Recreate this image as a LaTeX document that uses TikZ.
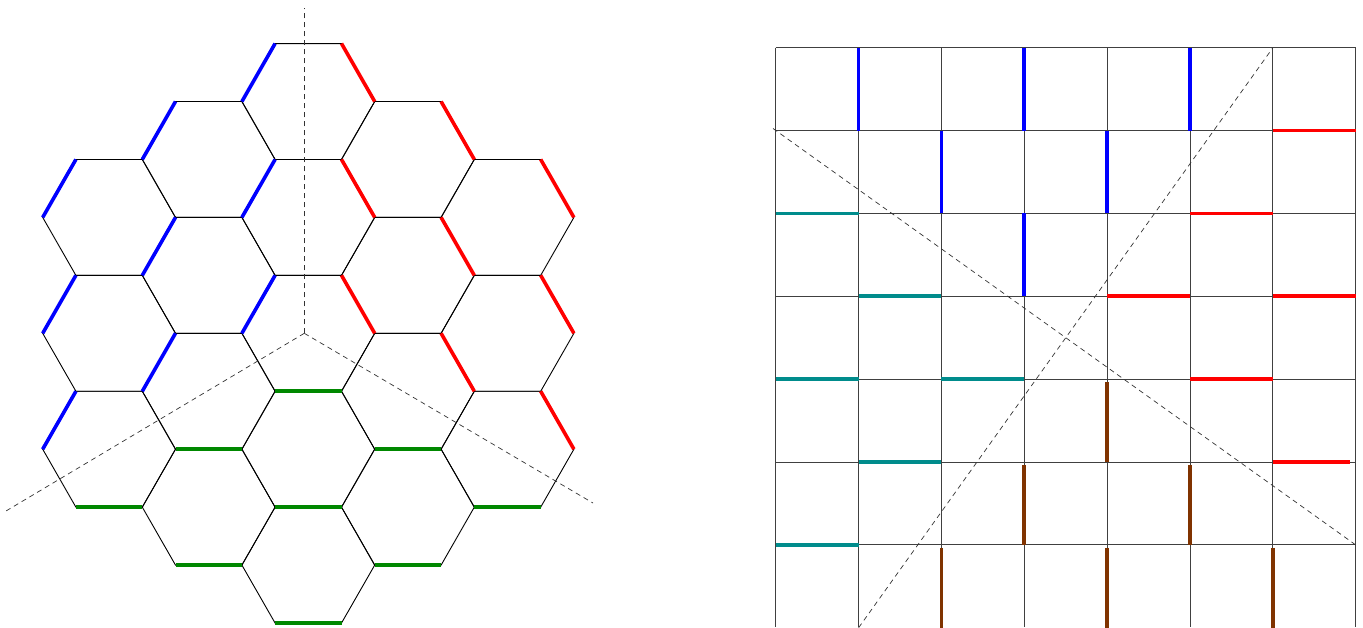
\documentclass[tikz,border=0pt]{standalone}
\definecolor{hexblue}{RGB}{0,0,255}
\definecolor{hexred}{RGB}{255,0,0}
\definecolor{hexgreen}{RGB}{0,136,0}
\definecolor{gridteal}{RGB}{0,140,140}
\definecolor{gridbrown}{RGB}{128,51,0}
\begin{document}
\begin{tikzpicture}[x=1pt,y=-1pt,
  hexline/.style={line width=0.9pt,black},
  gridline/.style={line width=1pt,black!75},
  thickedge/.style={line width=3.6pt},
  guide/.style={line width=0.7pt,black!80,dash pattern=on 5pt off 4pt}]
\useasboundingbox (0,0) rectangle (1363,627);

% ---------- hexagonal patch ----------
\foreach \i/\k in {0/-4,0/-2,0/0,0/2,0/4,-1/-3,-1/-1,-1/1,-1/3,1/-3,1/-1,1/1,1/3,-2/-2,-2/0,-2/2,2/-2,2/0,2/2}
  \draw[hexline,shift={({308.3+99.6*\i},{333.3+57.95*\k})}]
    (-66.4,0) -- (-33.2,-57.95) -- (33.2,-57.95) -- (66.4,0) -- (33.2,57.95) -- (-33.2,57.95) -- cycle;

\foreach \i/\k in {0/-4,0/-2,0/0,-1/-3,-1/-1,-1/1,-2/-2,-2/0,-2/2}
  \draw[thickedge,hexblue,shift={({308.3+99.6*\i},{333.3+57.95*\k})}] (-66.4,0) -- (-33.2,-57.95);

\foreach \i/\k in {0/-4,0/-2,0/0,1/-3,1/-1,1/1,2/-2,2/0,2/2}
  \draw[thickedge,hexred,shift={({308.3+99.6*\i},{333.3+57.95*\k})}] (33.2,-57.95) -- (66.4,0);

\foreach \i/\k in {0/0,-1/1,1/1,0/2,-2/2,2/2,-1/3,1/3,0/4}
  \draw[thickedge,hexgreen,shift={({308.3+99.6*\i},{333.3+57.95*\k})}] (-33.2,57.95) -- (33.2,57.95);

\coordinate (O) at (304.3,333.3);
\coordinate (OU) at (304.3,8);
\coordinate (OL) at (6,511);
\coordinate (OR) at (593,503);
\draw[guide] (O) -- (OU);
\draw[guide] (O) -- (OL);
\draw[guide] (O) -- (OR);

% ---------- square grid ----------
\foreach \n in {0,...,7}
  \draw[gridline] ({775.7+82.86*\n},47.7) -- ({775.7+82.86*\n},627);
\foreach \n in {0,...,6}
  \draw[gridline] (775.7,{47.7+82.86*\n}) -- (1355.7,{47.7+82.86*\n});

\foreach \a/\b in {1/0,3/0,5/0,2/1,4/1,3/2}
  \draw[thickedge,hexblue] ({775.7+82.86*\a},{47.7+82.86*\b}) -- ++(0,82.86);
\foreach \a/\b in {6/1,5/2,4/3,6/3,5/4}
  \draw[thickedge,hexred] ({775.7+82.86*\a},{47.7+82.86*\b}) -- ++(82.86,0);
\draw[thickedge,hexred] ({775.7+82.86*6},{47.7+82.86*5}) -- ++(77,0);
\foreach \a/\b in {0/2,1/3,0/4,2/4,1/5,0/6}
  \draw[thickedge,gridteal] ({775.7+82.86*\a},{47.7+82.86*\b}) -- ++(82.86,0);
\foreach \a/\b in {4/4,3/5,5/5,2/6,4/6,6/6}
  \draw[thickedge,gridbrown] ({775.7+82.86*\a},{47.7+82.86*\b+3}) -- ++(0,80);

\coordinate (DA) at (773,128.5);
\coordinate (DB) at (1355.7,544.9);
\coordinate (DC) at (858.6,627.7);
\coordinate (DD) at (1272.9,47.7);
\draw[guide] (DA) -- (DB);
\draw[guide] (DC) -- (DD);
\end{tikzpicture}
\end{document}
